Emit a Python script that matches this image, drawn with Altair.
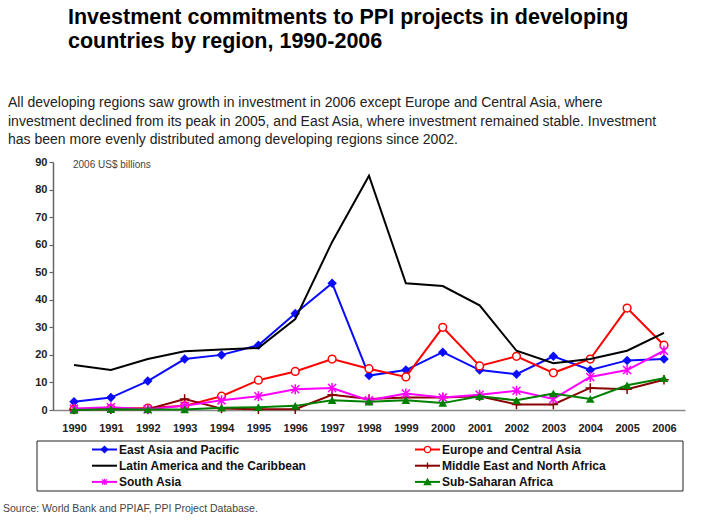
import altair as alt
import pandas as pd

FONT = "Liberation Sans"

years = [str(y) for y in range(1990, 2007)]

east_asia = [3.0, 4.5, 10.5, 18.5, 20.0, 23.5, 35.0, 46.0, 12.5, 14.5, 21.0, 14.5, 13.0, 19.5, 14.5, 18.0, 18.5]
europe_ca = [0.3, 0.5, 0.7, 1.5, 5.0, 10.8, 14.0, 18.5, 15.0, 12.0, 30.0, 16.0, 19.5, 13.5, 18.5, 37.0, 23.5]
latin_am = [16.3, 14.5, 18.5, 21.3, 22.0, 22.5, 33.0, 61.0, 85.0, 46.0, 45.0, 38.0, 21.5, 17.0, 18.5, 21.5, 28.0]
mena = [0.2, 0.3, 0.3, 4.0, 0.5, 0.3, 0.3, 5.5, 4.0, 4.5, 4.5, 5.0, 2.0, 2.0, 8.0, 7.5, 11.0]
south_asia = [0.5, 1.0, 0.3, 1.5, 3.5, 5.0, 7.5, 8.0, 3.5, 6.0, 4.5, 5.5, 7.0, 4.0, 12.0, 14.5, 21.5]
ssa = [0.0, 0.3, 0.2, 0.2, 0.8, 1.0, 1.5, 3.5, 3.0, 3.5, 2.5, 5.0, 3.5, 6.0, 4.0, 9.0, 11.5]

series_names = [
    "East Asia and Pacific",
    "Europe and Central Asia",
    "Latin America and the Caribbean",
    "Middle East and North Africa",
    "South Asia",
    "Sub-Saharan Africa",
]
series_values = [east_asia, europe_ca, latin_am, mena, south_asia, ssa]
series_colors = ["#0a0aff", "#ff0000", "#000000", "#8b0000", "#ff00ff", "#008000"]

ASTERISK = "M0,-1L0,1M-0.8,-0.8L0.8,0.8M-0.8,0.8L0.8,-0.8"
PLUS = "M0,-1L0,1M-1,0L1,0"
# marker: (shape, filled, fill colour, size)
series_markers = [
    ("diamond", True, None, 90),
    ("circle", False, "white", 60),
    (None, False, None, 0),
    (PLUS, False, None, 90),
    (ASTERISK, False, None, 100),
    ("triangle-up", True, None, 75),
]

y_ticks = list(range(0, 100, 10))

title_lines = [
    "Investment commitments to PPI projects in developing",
    "countries by region, 1990-2006",
]
subtitle_lines = [
    "All developing regions saw growth in investment in 2006 except Europe and Central Asia, where",
    "investment declined from its peak in 2005, and East Asia, where investment remained stable. Investment",
    "has been more evenly distributed among developing regions since 2002.",
]
unit_label = "2006 US$ billions"
source_text = "Source: World Bank and PPIAF, PPI Project Database."

W, H = 632, 248
X0, Y0 = 53, 162

x_enc = alt.X(
    "year:O",
    scale=alt.Scale(type="point", domain=years, padding=0.57),
    axis=alt.Axis(
        title=None, labelAngle=0, ticks=False, labelPadding=12,
        labelFontSize=11, labelFontWeight="bold", labelColor="#222", labelFont=FONT,
        domainColor="#888", domainWidth=1.5, grid=False,
    ),
)
y_enc = alt.Y(
    "value:Q",
    scale=alt.Scale(domain=[0, 90], nice=False),
    axis=alt.Axis(
        title=None, values=y_ticks, tickSize=4, tickColor="#666", tickWidth=1.2,
        labelPadding=2, labelFontSize=11, labelFontWeight="bold", labelColor="#222",
        labelFont=FONT, domainColor="#666", domainWidth=1.5, grid=False,
    ),
)

layers = []
for name, vals, col, mk in zip(series_names, series_values, series_colors, series_markers):
    df = pd.DataFrame({"year": years, "value": vals, "series": name})
    base = alt.Chart(df).encode(x=x_enc, y=y_enc)
    layers.append(base.mark_line(color=col, strokeWidth=2))
    shape, filled, fillc, size = mk
    if shape is not None:
        kw = dict(shape=shape, size=size, color=col, strokeWidth=1.5, opacity=1)
        if filled:
            kw.update(filled=True, fill=col)
        else:
            kw.update(filled=False, fill=fillc if fillc else "transparent", fillOpacity=1)
        layers.append(base.mark_point(**kw))


def text_layer(txt, x, y, size, weight="normal", color="#000", align="left", baseline="middle"):
    return alt.Chart(pd.DataFrame({"t": [txt]})).mark_text(
        align=align, baseline=baseline, fontSize=size, fontWeight=weight,
        color=color, font=FONT,
    ).encode(x=alt.value(x - X0), y=alt.value(y - Y0), text="t:N")


texts = []
for i, line in enumerate(title_lines):
    texts.append(text_layer(line, 68, 18 + i * 24, 21.5, "bold", "#000"))
for i, line in enumerate(subtitle_lines):
    texts.append(text_layer(line, 8, 103 + i * 18.5, 14, "normal", "#222"))
texts.append(text_layer(unit_label, 73, 165, 10, "normal", "#444"))
texts.append(text_layer(source_text, 3, 509, 10.5, "normal", "#444"))

# legend (laid out in two columns, three rows)
leg_rows = []
for i, (name, col, mk) in enumerate(zip(series_names, series_colors, series_markers)):
    c, r = i % 2, i // 2
    shape, filled, fillc, size = mk
    lx = 92 + c * 323
    ly = 449.5 + r * 16.2
    leg_rows.append({
        "name": name, "color": col,
        "shape": shape if shape else "", "fillc": col if filled else (fillc or "transparent"),
        "x1": lx - X0, "x2": lx + 25 - X0, "xm": lx + 12.5 - X0, "xt": lx + 27 - X0,
        "y": ly - Y0,
    })
leg_df = pd.DataFrame(leg_rows)

leg_box = alt.Chart(pd.DataFrame({"a": [0]})).mark_rect(
    fill="transparent", stroke="#222", strokeWidth=1
).encode(
    x=alt.value(37 - X0), x2=alt.value(683 - X0),
    y=alt.value(441 - Y0), y2=alt.value(491 - Y0),
)
leg_lines = alt.Chart(leg_df).mark_rule(strokeWidth=2).encode(
    x=alt.X("x1:Q", scale=None), x2="x2:Q", y=alt.Y("y:Q", scale=None),
    color=alt.Color("color:N", scale=None),
)
leg_pts = alt.Chart(leg_df).transform_filter("datum.shape != ''").mark_point(
    size=40, strokeWidth=1.3, opacity=1, fillOpacity=1
).encode(
    x=alt.X("xm:Q", scale=None), y=alt.Y("y:Q", scale=None),
    shape=alt.Shape("shape:N", scale=None),
    color=alt.Color("color:N", scale=None),
    fill=alt.Fill("fillc:N", scale=None),
)
leg_text = alt.Chart(leg_df).mark_text(
    align="left", baseline="middle", fontSize=12, fontWeight="bold", color="#111", font=FONT
).encode(x=alt.X("xt:Q", scale=None), y=alt.Y("y:Q", scale=None), text="name:N")

chart = alt.layer(
    *layers, *texts, leg_box, leg_lines, leg_pts, leg_text
).properties(
    width=W, height=H,
    autosize=alt.AutoSizeParams(type="none"),
    padding={"left": X0, "top": Y0, "right": 712 - X0 - W, "bottom": 525 - Y0 - H},
    background="white",
).configure_view(stroke=None)

chart.save("out.html", embed_options={"renderer": "svg", "actions": False})
